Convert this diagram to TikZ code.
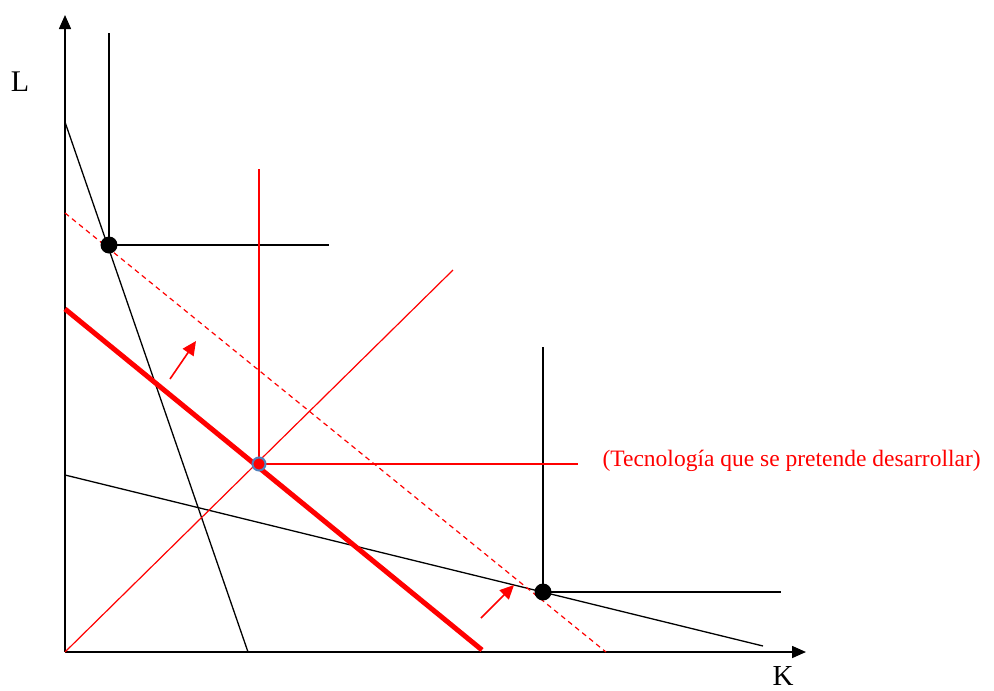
\documentclass[tikz,border=0pt]{standalone}
\usepackage{fontspec}
\setmainfont{Liberation Serif}
\usetikzlibrary{arrows.meta}
\definecolor{techred}{RGB}{255,0,0}
\definecolor{dotblue}{RGB}{79,129,189}
\tikzset{
  axis/.style={line width=1.6pt,-{Triangle[length=14pt,width=12pt]}},
  thinline/.style={line width=1.3pt},
  shiftarrow/.style={techred,line width=1.6pt,-{Triangle[length=14pt,width=13pt]}},
  bigdot/.style={fill=black}
}
\begin{document}
\begin{tikzpicture}[x=1pt,y=-1pt]
\useasboundingbox (0,0) rectangle (994,691);
% Axes
\coordinate (O) at (65,652);
\coordinate (Ltip) at (65,15);
\coordinate (Ktip) at (806,652);
\draw[axis] (O) -- (Ltip);
\draw[axis] (O) -- (Ktip);
\node[font=\fontsize{30}{34}\selectfont,inner sep=0pt] (labL) at (20,82) {L};
\node[font=\fontsize{29}{33}\selectfont,inner sep=0pt] (labK) at (783,676) {K};
% Black isoquants (existing techniques)
\coordinate (A) at (109,245);
\coordinate (B) at (543,592);
\draw[thinline] (109,33) -- (A) -- (329,245);
\draw[thinline] (543,347) -- (B) -- (781,592);
% Isocost lines
\draw[thinline] (65,122) -- (248,652);
\draw[thinline] (65,475) -- (763,646);
\draw[techred,line width=1.2pt,dash pattern=on 5pt off 4pt] (65,213) -- (606,652);
\draw[techred,line width=5pt] (65,309) -- (482,650);
% Red isoquant (new technique)
\coordinate (T) at (259,464);
\draw[techred,line width=1.2pt] (259,169) -- (T) -- (578,464);
\draw[techred,line width=1.2pt] (O) -- (453,270);
% Points
\fill[bigdot] (A) circle[radius=8.5pt];
\fill[bigdot] (B) circle[radius=8.5pt];
\filldraw[fill=techred,draw=dotblue,line width=2pt] (T) circle[radius=6.5pt];
% Shift arrows
\draw[shiftarrow] (170,379) -- (196,341);
\draw[shiftarrow] (481,618) -- (514,585);
\node[techred,anchor=west,font=\fontsize{23.5}{28}\selectfont] (tech) at (599,461) {(Tecnología que se pretende desarrollar)};
\end{tikzpicture}
\end{document}
